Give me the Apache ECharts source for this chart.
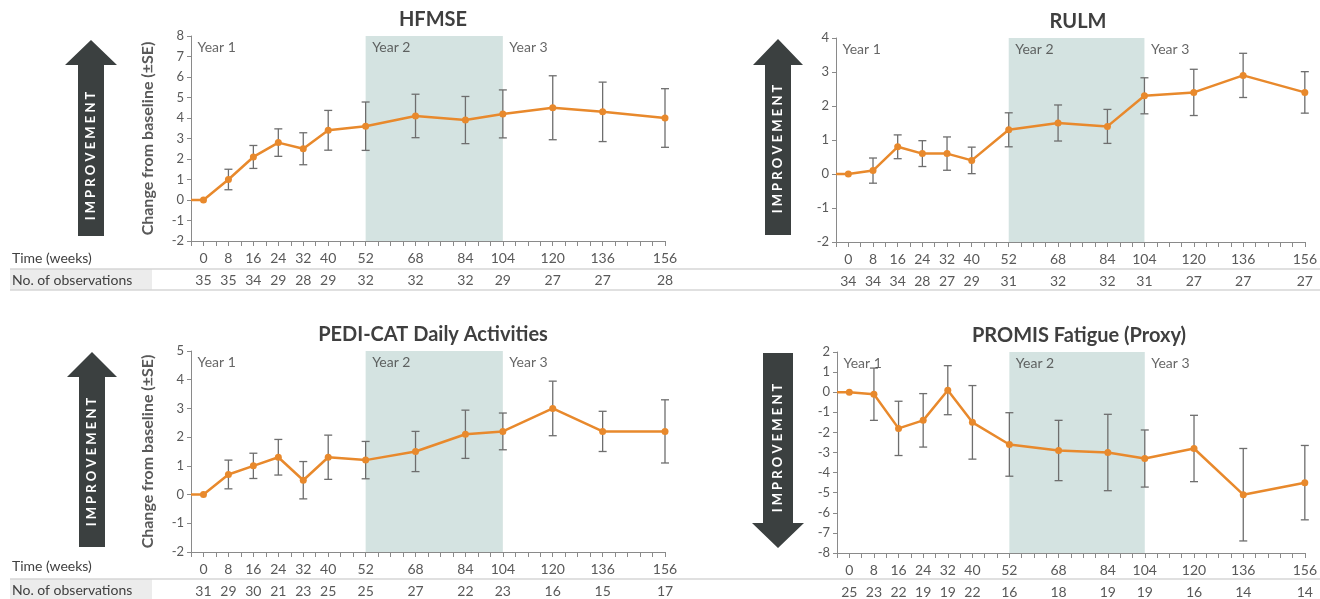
<!DOCTYPE html>
<html>
<head>
<meta charset="utf-8">
<script src="https://cdn.jsdelivr.net/npm/echarts@6/dist/echarts.min.js"></script>
<style>
  html, body { margin: 0; padding: 0; background: #ffffff; }
  #chart { width: 1320px; height: 599px; }
</style>
</head>
<body>
<div id="chart"></div>
<script>
// Visit weeks and where each visit sits on the tick ruler (one tick per slot)
const weeks = [0, 8, 16, 24, 32, 40, 52, 68, 84, 104, 120, 136, 156];
const rulerTick = [0, 2, 4, 6, 8, 10, 13, 17, 21, 24, 28, 32, 37];

// HFMSE
const hfmseMean = [0, 1.0, 2.1, 2.8, 2.5, 3.4, 3.6, 4.1, 3.9, 4.2, 4.5, 4.3, 4.0];
const hfmseSE   = [0, 0.5, 0.56, 0.67, 0.78, 0.97, 1.18, 1.06, 1.15, 1.17, 1.56, 1.45, 1.43];
const hfmseN    = [35, 35, 34, 29, 28, 29, 32, 32, 32, 29, 27, 27, 28];

// RULM
const rulmMean = [0, 0.1, 0.8, 0.6, 0.6, 0.4, 1.3, 1.5, 1.4, 2.3, 2.4, 2.9, 2.4];
const rulmSE   = [0, 0.37, 0.35, 0.38, 0.49, 0.39, 0.5, 0.53, 0.5, 0.53, 0.68, 0.65, 0.61];
const rulmN    = [34, 34, 34, 28, 27, 29, 31, 32, 32, 31, 27, 27, 27];

// PEDI-CAT Daily Activities
const pediMean = [0, 0.7, 1.0, 1.3, 0.5, 1.3, 1.2, 1.5, 2.1, 2.2, 3.0, 2.2, 2.2];
const pediSE   = [0, 0.5, 0.44, 0.62, 0.65, 0.77, 0.65, 0.7, 0.84, 0.64, 0.95, 0.7, 1.1];
const pediN    = [31, 29, 30, 21, 23, 25, 25, 27, 22, 23, 16, 15, 17];

// PROMIS Fatigue (Proxy)
const promisMean = [0, -0.1, -1.8, -1.4, 0.1, -1.5, -2.6, -2.9, -3.0, -3.3, -2.8, -5.1, -4.5];
const promisSE   = [0, 1.3, 1.35, 1.33, 1.22, 1.83, 1.58, 1.5, 1.9, 1.42, 1.65, 2.3, 1.85];
const promisN    = [25, 23, 22, 19, 19, 22, 16, 18, 19, 19, 16, 14, 14];

const yearLabels = ['Year 1', 'Year 2', 'Year 3'];
const rowLabels = ['Time (weeks)', 'No. of observations'];
const yAxisTitle = 'Change from baseline (\u00b1SE)';
const arrowText = 'IMPROVEMENT';

const FONT = 'Lato, "Noto Sans", "DejaVu Sans", sans-serif';
const ORANGE = '#e8892c';
const SHADE = '#d4e3e1';
const DARK = '#3b4040';
const AXIS_START = -1;
const AXIS_END = 37;

const panels = [
  { title: 'HFMSE', mean: hfmseMean, se: hfmseSE, n: hfmseN, yMin: -2, yMax: 8, showName: true,
    grid: { left: 191, top: 36, width: 474, height: 205 } },
  { title: 'RULM', mean: rulmMean, se: rulmSE, n: rulmN, yMin: -2, yMax: 4, showName: false,
    grid: { left: 836, top: 38, width: 474, height: 204 } },
  { title: 'PEDI-CAT Daily Activities', mean: pediMean, se: pediSE, n: pediN, yMin: -2, yMax: 5, showName: true,
    grid: { left: 191, top: 351, width: 474, height: 201 } },
  { title: 'PROMIS Fatigue (Proxy)', mean: promisMean, se: promisSE, n: promisN, yMin: -8, yMax: 2, showName: false,
    grid: { left: 837, top: 352, width: 474, height: 204 } }
];

function slotLabel(list) {
  return function (v) {
    const i = rulerTick.indexOf(Math.round(v));
    return i >= 0 && Math.abs(v - rulerTick[i]) < 1e-6 ? String(list[i]) : '';
  };
}

const slot52 = rulerTick[weeks.indexOf(52)];
const slot104 = rulerTick[weeks.indexOf(104)];
const yearStarts = [AXIS_START, slot52, slot104];

const option = {
  animation: false,
  backgroundColor: '#ffffff',
  textStyle: { fontFamily: FONT },
  title: [], grid: [], xAxis: [], yAxis: [], series: [], graphic: []
};

panels.forEach(function (p, k) {
  option.grid.push(Object.assign({ containLabel: false }, p.grid));
  option.title.push({
    text: p.title,
    left: p.grid.left + p.grid.width / 2,
    top: p.grid.top - 31,
    textAlign: 'center',
    textStyle: { fontFamily: FONT, fontSize: 20, fontWeight: 'bold', color: '#3f3f3f' }
  });
  const axisCommon = {
    type: 'value', gridIndex: k, min: AXIS_START, max: AXIS_END, interval: 1,
    splitLine: { show: false }
  };
  // Time ruler
  option.xAxis.push(Object.assign({}, axisCommon, {
    position: 'bottom',
    axisLine: { onZero: false, lineStyle: { color: '#8a8a8a', width: 1 } },
    axisTick: { length: 5, lineStyle: { color: '#8a8a8a' } },
    axisLabel: { formatter: slotLabel(weeks), margin: 10, fontSize: 14, color: '#595959',
                 fontFamily: FONT, showMinLabel: true, showMaxLabel: true }
  }));
  // Observation counts row
  option.xAxis.push(Object.assign({}, axisCommon, {
    position: 'bottom', offset: 22,
    axisLine: { show: false, onZero: false }, axisTick: { show: false },
    axisLabel: { formatter: slotLabel(p.n), margin: 10, fontSize: 14, color: '#595959',
                 fontFamily: FONT, showMinLabel: true, showMaxLabel: true }
  }));
  option.yAxis.push({
    type: 'value', gridIndex: k, min: p.yMin, max: p.yMax, interval: 1,
    splitLine: { show: false },
    axisLine: { show: true, onZero: false, lineStyle: { color: '#8a8a8a', width: 1 } },
    axisTick: { show: true, length: 4, lineStyle: { color: '#8a8a8a' } },
    axisLabel: { fontSize: 13, color: '#595959', margin: 7, fontFamily: FONT },
    name: p.showName ? yAxisTitle : '',
    nameLocation: 'middle', nameGap: 35,
    nameTextStyle: { fontSize: 16, fontWeight: 'bold', color: '#595959', fontFamily: FONT }
  });

  const pts = p.mean.map(function (m, i) { return [rulerTick[i], m]; });
  const bars = [];
  p.mean.forEach(function (m, i) {
    if (p.se[i] > 0) bars.push([rulerTick[i], m - p.se[i], m + p.se[i]]);
  });

  // Year 2 band
  option.series.push({
    type: 'line', xAxisIndex: 2 * k, yAxisIndex: k, z: 1, silent: true,
    data: pts, symbol: 'none', lineStyle: { opacity: 0 },
    markArea: {
      silent: true,
      itemStyle: { color: SHADE },
      data: [[{ xAxis: slot52 }, { xAxis: slot104 }]]
    }
  });
  // Year captions, anchored at the top of each year band
  option.series.push({
    type: 'scatter', xAxisIndex: 2 * k, yAxisIndex: k, z: 4, silent: true,
    symbol: 'rect', symbolSize: 1, itemStyle: { color: 'rgba(0,0,0,0)' },
    data: yearStarts.map(function (s, i) { return [s, p.yMax, yearLabels[i]]; }),
    label: {
      show: true, position: [7, 5], align: 'left', verticalAlign: 'top',
      formatter: function (d) { return d.value[2]; },
      color: '#404040', fontSize: 14, fontFamily: FONT
    }
  });
  // Error bars (±SE)
  option.series.push({
    type: 'custom', xAxisIndex: 2 * k, yAxisIndex: k, z: 2, silent: true,
    encode: { x: 0, y: [1, 2] },
    data: bars,
    renderItem: function (params, api) {
      const x = api.value(0);
      const lo = api.coord([x, api.value(1)]);
      const hi = api.coord([x, api.value(2)]);
      const hw = 4;
      const st = { stroke: '#6e6e6e', lineWidth: 1.3 };
      return {
        type: 'group',
        children: [
          { type: 'line', shape: { x1: hi[0], y1: hi[1], x2: lo[0], y2: lo[1] }, style: st },
          { type: 'line', shape: { x1: hi[0] - hw, y1: hi[1], x2: hi[0] + hw, y2: hi[1] }, style: st },
          { type: 'line', shape: { x1: lo[0] - hw, y1: lo[1], x2: lo[0] + hw, y2: lo[1] }, style: st }
        ]
      };
    }
  });
  // Mean change line, starting from the baseline at the axis
  option.series.push({
    type: 'line', xAxisIndex: 2 * k, yAxisIndex: k, z: 3, silent: true,
    data: [{ value: [AXIS_START, 0], symbol: 'none' }].concat(pts),
    symbol: 'circle', symbolSize: 7,
    itemStyle: { color: ORANGE },
    lineStyle: { color: ORANGE, width: 2.5 }
  });
});

// Direction-of-improvement arrows
function arrow(cx, top, bottom, headLen, halfHead, halfShaft, up, textCy) {
  let pts;
  if (up) {
    pts = [[cx, top], [cx + halfHead, top + headLen], [cx + halfShaft, top + headLen],
           [cx + halfShaft, bottom], [cx - halfShaft, bottom], [cx - halfShaft, top + headLen],
           [cx - halfHead, top + headLen]];
  } else {
    pts = [[cx, bottom], [cx + halfHead, bottom - headLen], [cx + halfShaft, bottom - headLen],
           [cx + halfShaft, top], [cx - halfShaft, top], [cx - halfShaft, bottom - headLen],
           [cx - halfHead, bottom - headLen]];
  }
  option.graphic.push({ type: 'polygon', shape: { points: pts }, style: { fill: DARK }, silent: true });
  option.graphic.push({
    type: 'text', x: cx, y: textCy, rotation: Math.PI / 2, silent: true,
    style: { text: arrowText.split('').join(' '), fill: '#ffffff', fontSize: 13, fontWeight: 'bold',
             fontFamily: FONT, align: 'center', verticalAlign: 'middle' }
  });
}
arrow(91, 40, 236, 25, 26, 13, true, 156);
arrow(778, 39, 235, 26, 25, 13, true, 149);
arrow(92, 352, 547, 25, 25, 13, true, 462);
arrow(778, 353, 548, 25, 26, 15, false, 448);

// Table rows under the top and bottom panels
[{ timeY: 258, rowTop: 269 }, { timeY: 566, rowTop: 579 }].forEach(function (r) {
  option.graphic.push({ type: 'rect', shape: { x: 10, y: r.rowTop, width: 142, height: 21 },
                        style: { fill: '#ececec' }, silent: true, z: -1 });
  option.graphic.push({ type: 'line', shape: { x1: 10, y1: r.rowTop, x2: 1320, y2: r.rowTop },
                        style: { stroke: '#d6d6d6', lineWidth: 1.5 }, silent: true });
  option.graphic.push({ type: 'line', shape: { x1: 10, y1: r.rowTop + 21, x2: 1320, y2: r.rowTop + 21 },
                        style: { stroke: '#d6d6d6', lineWidth: 1.5 }, silent: true });
  option.graphic.push({ type: 'text', x: 12, y: r.timeY, silent: true,
    style: { text: rowLabels[0], fontSize: 14, fill: '#404040', fontFamily: FONT, verticalAlign: 'middle' } });
  option.graphic.push({ type: 'text', x: 12, y: r.rowTop + 11, silent: true,
    style: { text: rowLabels[1], fontSize: 14, fill: '#404040', fontFamily: FONT, verticalAlign: 'middle' } });
});

const chart = echarts.init(document.getElementById('chart'), null, { renderer: 'canvas' });
chart.setOption(option);
</script>
</body>
</html>
